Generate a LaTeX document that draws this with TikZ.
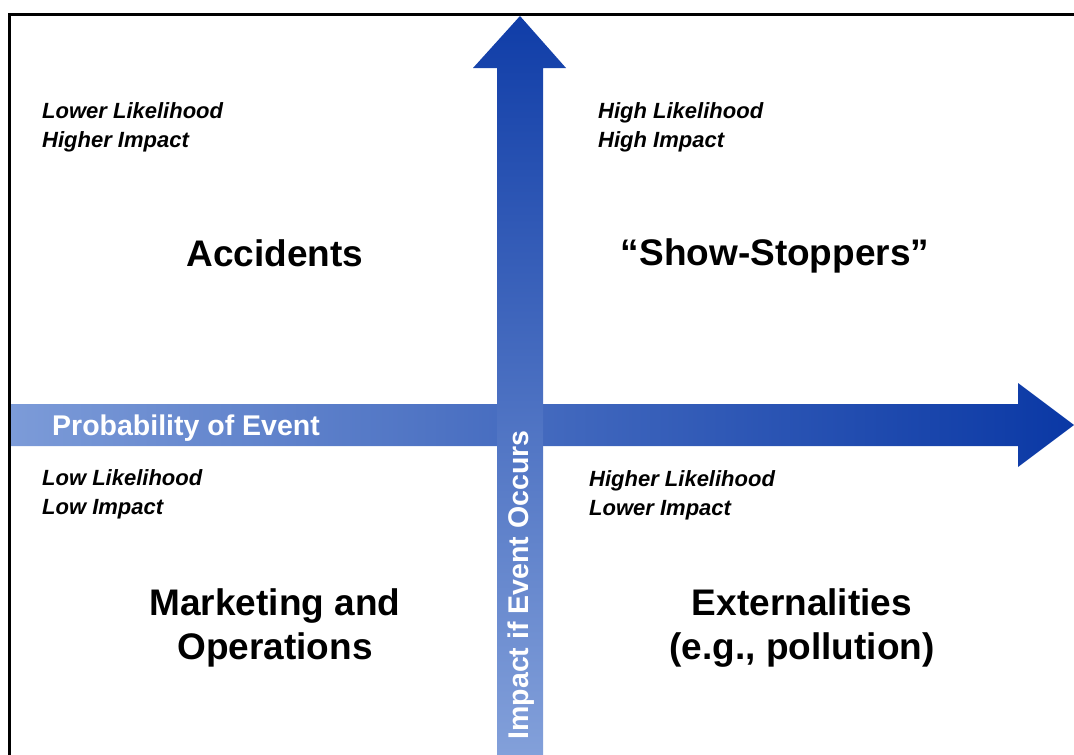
\documentclass[tikz,border=0pt]{standalone}
\usepackage{fontspec}
\setmainfont{Liberation Sans}
\usepackage{xcolor}
\usepackage{tikz}
\usetikzlibrary{positioning}

\definecolor{axislight}{RGB}{124,155,216}
\definecolor{axisdark}{RGB}{10,56,165}

\begin{document}
\begin{tikzpicture}[x=1pt, y=-1pt,
    cornernote/.style={anchor=west, align=left, inner sep=0pt, font=\fontsize{22}{29}\selectfont\bfseries\itshape},
    quadtitle/.style={align=center, inner sep=0pt, font=\fontsize{37}{44}\selectfont\bfseries},
    axislabel/.style={text=white, inner sep=0pt, font=\fontsize{28.5}{34}\selectfont\bfseries}]
    \useasboundingbox (0,0) rectangle (1074,755);

    % Kader
    \draw[line width=3pt] (1074,14.5) -- (9.5,14.5) -- (9.5,755);

    % Kans-as
    \shade[left color=axislight, right color=axisdark]
        (11,404) -- (1018,404) -- (1018,383) -- (1074,425) -- (1018,467) -- (1018,446) -- (11,446) -- cycle;
    \node[axislabel, anchor=west] (kans) at (52,428) {Probability of Event};

    % Impact-as
    \shade[bottom color=axislight!95!white, top color=axisdark!95!axislight]
        (497,755) -- (497,68) -- (473,68) -- (520,16) -- (566,68) -- (543,68) -- (543,755) -- cycle;
    \node[axislabel, rotate=90] (impact) at (521,585) {Impact if Event Occurs};

    % Linksboven
    \node[cornernote] (lbnote) at (42,127.5) {Lower Likelihood\\Higher Impact};
    \node[quadtitle] (lbtitel) at (275,253) {Accidents};

    % Rechtsboven
    \node[cornernote] (rbnote) at (598,127.5) {High Likelihood\\High Impact};
    \node[quadtitle] (rbtitel) at (775,256) {“Show-Stoppers”};

    % Linksonder
    \node[cornernote] (lonote) at (42,494) {Low Likelihood\\Low Impact};
    \node[quadtitle] (lotitel) at (275,628) {Marketing and\\Operations};

    % Rechtsonder
    \node[cornernote] (ronote) at (589,495) {Higher Likelihood\\Lower Impact};
    \node[quadtitle] (rotitel) at (802,628) {Externalities\\(e.g., pollution)};
\end{tikzpicture}
\end{document}
